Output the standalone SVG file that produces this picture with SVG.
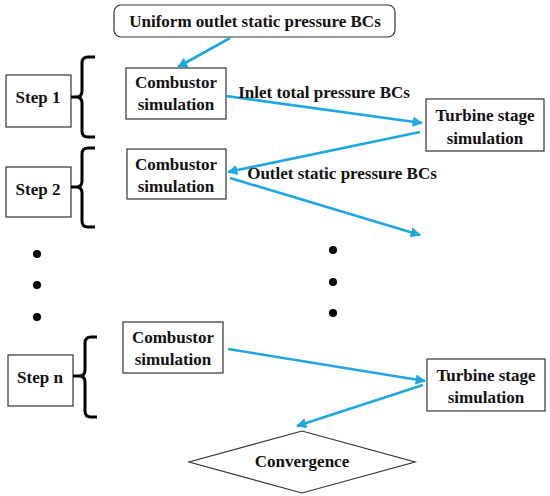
<svg xmlns="http://www.w3.org/2000/svg" width="550" height="496" viewBox="0 0 550 496">
<style>
text{font-family:"Liberation Serif","Times New Roman",serif;font-weight:bold;font-size:17px;fill:#111;text-anchor:middle}
.box{fill:#fff;stroke:#333;stroke-width:1.2}
.br{fill:none;stroke:#000;stroke-width:3}
.ar{fill:none;stroke:#1ea7e1;stroke-width:2.6;marker-end:url(#ah)}
.dot{fill:#000}
</style>
<defs>
<marker id="ah" viewBox="0 0 10 10" refX="9" refY="5" markerWidth="4" markerHeight="4" orient="auto" markerUnits="strokeWidth">
<path d="M0,0 L10,5 L0,10 Z" fill="#1ea7e1"/>
</marker>
</defs>
<rect width="550" height="496" fill="#fff"/>

<g id="top"><rect class="box" x="114" y="5" width="281" height="32" rx="7"/><text x="255" y="27">Uniform outlet static pressure BCs</text></g>

<g id="step1"><rect class="box" x="6" y="75" width="65" height="52"/><text x="38" y="103">Step 1</text></g>
<g id="step2"><rect class="box" x="6" y="167" width="65" height="50"/><text x="38" y="195">Step 2</text></g>
<g id="stepn"><rect class="box" x="8" y="355" width="65" height="51"/><text x="40" y="383">Step n</text></g>

<g id="brackets">
<path class="br" d="M95,57 H88 Q82,57 82,63 V91 Q82,97 76,97 H71 M76,97 Q82,97 82,103 V131 Q82,137 88,137 H95"/>
<path class="br" d="M95,148 H88 Q82,148 82,154 V181 Q82,187 76,187 H71 M76,187 Q82,187 82,193 V221 Q82,227 88,227 H95"/>
<path class="br" d="M97,337 H91 Q85,337 85,343 V370 Q85,376 79,376 H73 M79,376 Q85,376 85,382 V411 Q85,417 91,417 H97"/>
</g>

<g id="comb1"><rect class="box" x="126" y="68" width="100" height="51"/><text x="176" y="88">Combustor</text><text x="176" y="110">simulation</text></g>
<g id="comb2"><rect class="box" x="127" y="149" width="99" height="50"/><text x="176" y="170">Combustor</text><text x="176" y="192">simulation</text></g>
<g id="combn"><rect class="box" x="123" y="322" width="100" height="51"/><text x="173" y="343">Combustor</text><text x="173" y="365">simulation</text></g>

<g id="turb1"><rect class="box" x="426" y="99" width="118" height="52"/><text x="485" y="121">Turbine stage</text><text x="485" y="144">simulation</text></g>
<g id="turbn"><rect class="box" x="427" y="359" width="118" height="52"/><text x="486" y="381">Turbine stage</text><text x="486" y="403">simulation</text></g>

<g id="conv"><polygon class="box" points="302,431 415,462 302,493 189,462"/><text x="302" y="467">Convergence</text></g>

<g id="dots">
<circle class="dot" cx="37" cy="254" r="4"/><circle class="dot" cx="37" cy="285" r="4"/><circle class="dot" cx="37" cy="317" r="4"/>
<circle class="dot" cx="333" cy="250" r="4"/><circle class="dot" cx="333" cy="282" r="4"/><circle class="dot" cx="333" cy="313" r="4"/>
</g>

<g id="connectors">
<line class="ar" x1="230" y1="38" x2="178" y2="67"/>
<line class="ar" x1="226" y1="96" x2="422" y2="123"/>
<line class="ar" x1="420" y1="132" x2="228" y2="172"/>
<line class="ar" x1="230" y1="178" x2="420" y2="235"/>
<line class="ar" x1="228" y1="349" x2="425" y2="381"/>
<line class="ar" x1="423" y1="385" x2="297" y2="426"/>
</g>

<g id="labels">
<text x="324" y="98">Inlet total pressure BCs</text>
<text x="342" y="179">Outlet static pressure BCs</text>
</g>
</svg>
